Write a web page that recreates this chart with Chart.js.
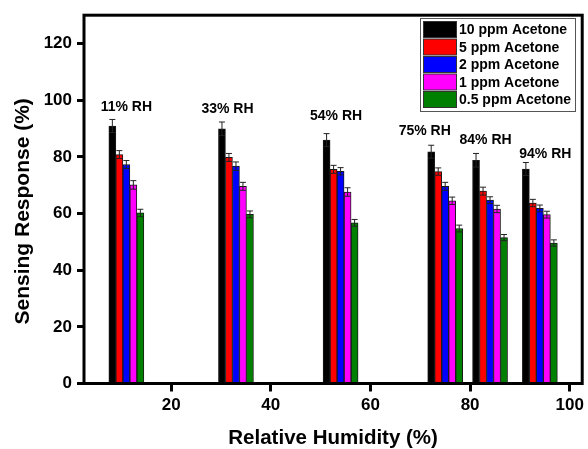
<!DOCTYPE html>
<html>
<head>
<meta charset="utf-8">
<script src="https://cdn.jsdelivr.net/npm/chart.js@4/dist/chart.umd.min.js"></script>
<style>
  html, body { margin: 0; padding: 0; background: #fff; }
  #wrap { width: 588px; height: 449px; }
</style>
</head>
<body>
<div id="wrap"><canvas id="myChart" width="588" height="449"></canvas></div>
<script>
// relative humidity of each group and the labels written above them
const humidity = [11, 33, 54, 75, 84, 94];
const rhLabels = ['11% RH', '33% RH', '54% RH', '75% RH', '84% RH', '94% RH'];
const rhLabelX = [11, 31.3, 53.1, 70.9, 83.1, 95.1];
const rhLabelY = [97.6, 96.7, 94.5, 89.2, 86.0, 80.8];

const seriesNames = ['10 ppm Acetone', '5 ppm Acetone', '2 ppm Acetone', '1 ppm Acetone', '0.5 ppm Acetone'];
const seriesColors = ['#000000', '#ff0000', '#0000ff', '#ff00ff', '#008000'];

const ppm10 = [90.9, 89.9, 85.9, 81.8, 78.8, 75.7];
const ppm5  = [80.8, 79.8, 75.6, 74.8, 67.9, 63.7];
const ppm2  = [77.3, 76.7, 74.9, 69.6, 64.7, 61.8];
const ppm1  = [70.1, 69.6, 67.6, 64.5, 61.6, 59.6];
const ppm05 = [60.2, 59.7, 56.7, 54.7, 51.5, 49.6];

const err10 = [2.3, 2.4, 2.3, 2.3, 2.4, 2.3];
const err5  = [1.4, 1.4, 1.4, 1.3, 1.4, 1.3];
const err2  = [1.4, 1.5, 1.3, 1.4, 1.2, 1.2];
const err1  = [1.5, 1.4, 1.5, 1.3, 1.3, 1.2];
const err05 = [1.3, 1.2, 1.2, 1.2, 1.1, 1.1];

const xTicks = [20, 40, 60, 80, 100];
const yTicks = [0, 20, 40, 60, 80, 100, 120];

const FONT = "'Liberation Sans', Arial, sans-serif";
const ctx = document.getElementById('myChart').getContext('2d');

const allValues = [ppm10, ppm5, ppm2, ppm1, ppm05];
const allErrors = [err10, err5, err2, err1, err05];

const datasets = allValues.map(function(vals, i) {
    return {
        label: seriesNames[i],
        data: vals.map(function(v, j) { return { x: humidity[j], y: v }; }),
        errors: allErrors[i],
        backgroundColor: seriesColors[i],
        borderColor: '#1a1a1a',
        borderWidth: 1,
        barThickness: 7
    };
});

// error whiskers from the errors arrays
const errorBars = {
    id: 'errorBars',
    afterDatasetsDraw(chart) {
        const c = chart.ctx, y = chart.scales.y;
        c.save();
        c.strokeStyle = '#222';
        c.lineWidth = 1;
        chart.data.datasets.forEach(function(ds, i) {
            chart.getDatasetMeta(i).data.forEach(function(bar, j) {
                const v = ds.data[j].y, e = ds.errors[j];
                const top = y.getPixelForValue(v + e);
                const low = y.getPixelForValue(v - e);
                c.beginPath();
                c.moveTo(bar.x, low); c.lineTo(bar.x, top);
                c.moveTo(bar.x - 3, top); c.lineTo(bar.x + 3, top);
                c.moveTo(bar.x - 3, low); c.lineTo(bar.x + 3, low);
                c.stroke();
            });
        });
        c.restore();
    }
};

// frame, RH labels, legend box and y title
const decorations = {
    id: 'decorations',
    afterDraw(chart) {
        const c = chart.ctx, a = chart.chartArea;
        const xs = chart.scales.x, ys = chart.scales.y;
        c.save();
        c.strokeStyle = '#000';
        c.lineWidth = 3;
        c.strokeRect(a.left, a.top, a.right - a.left, a.bottom - a.top);

        c.fillStyle = '#000';
        c.font = 'bold 14px ' + FONT;
        c.textAlign = 'center';
        c.textBaseline = 'middle';
        rhLabels.forEach(function(t, i) {
            c.fillText(t, xs.getPixelForValue(rhLabelX[i]), ys.getPixelForValue(rhLabelY[i]));
        });

        // legend
        const bx = 420.5, by = 18.5, bw = 155, bh = 93;
        c.lineWidth = 1;
        c.strokeStyle = '#555';
        c.fillStyle = '#fff';
        c.fillRect(bx, by, bw, bh);
        c.strokeRect(bx, by, bw, bh);
        c.textAlign = 'left';
        c.font = 'bold 14px ' + FONT;
        chart.data.datasets.forEach(function(ds, i) {
            const cy = 29.5 + i * 17.5;
            c.fillStyle = ds.backgroundColor;
            c.fillRect(423.5, cy - 8, 33, 16);
            c.strokeStyle = '#333';
            c.strokeRect(423.5, cy - 8, 33, 16);
            c.fillStyle = '#000';
            c.fillText(ds.label, 459, cy + 1);
        });

        c.translate(23, (a.top + a.bottom) / 2 + 12);
        c.rotate(-Math.PI / 2);
        c.textAlign = 'center';
        c.font = 'bold 21px ' + FONT;
        c.fillText('Sensing Response (%)', 0, 0);
        c.restore();
    }
};

const config = {
    type: 'bar',
    data: { datasets: datasets },
    options: {
        responsive: false,
        animation: false,
        layout: { padding: { top: 15, right: 2.5, left: 0, bottom: 0 } },
        scales: {
            x: {
                type: 'linear',
                min: 2.5,
                max: 102.5,
                offset: false,
                afterBuildTicks: function(scale) {
                    scale.ticks = xTicks.map(function(v) { return { value: v }; });
                },
                afterFit: function(scale) { scale.height = 65.5; },
                grid: {
                    display: true, drawOnChartArea: false, offset: false,
                    tickLength: 8, tickWidth: 3, tickColor: '#000'
                },
                border: { display: false },
                ticks: {
                    color: '#000', padding: 4, maxRotation: 0,
                    font: { family: FONT, size: 17, weight: 'bold' }
                },
                title: {
                    display: true,
                    text: 'Relative Humidity (%)',
                    color: '#000',
                    padding: { top: 0, bottom: 0.5 },
                    font: { family: FONT, size: 20.5, weight: 'bold', lineHeight: 1 }
                }
            },
            y: {
                min: 0,
                max: 130,
                afterBuildTicks: function(scale) {
                    scale.ticks = yTicks.map(function(v) { return { value: v }; });
                },
                afterFit: function(scale) { scale.width = 84; },
                grid: {
                    display: true, drawOnChartArea: false,
                    tickLength: 7, tickWidth: 3, tickColor: '#000'
                },
                border: { display: false },
                ticks: {
                    color: '#000', padding: 5,
                    font: { family: FONT, size: 17, weight: 'bold' }
                }
            }
        },
        plugins: {
            legend: { display: false },
            tooltip: { enabled: false }
        }
    },
    plugins: [errorBars, decorations]
};

const myChart = new Chart(ctx, config);
</script>
</body>
</html>
